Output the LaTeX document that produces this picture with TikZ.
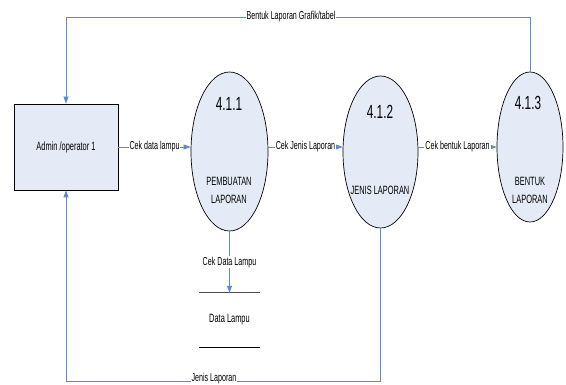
\documentclass[tikz,border=0pt]{standalone}
\usepackage{fontspec}
\setmainfont{Liberation Sans}[FakeStretch=0.62]
\usetikzlibrary{shapes.geometric,arrows.meta}
\definecolor{flowblue}{RGB}{92,138,208}
\definecolor{procfill}{RGB}{229,235,246}
\tikzset{
  flow/.style={draw=flowblue, line width=0.8pt, -{Triangle[length=7pt,width=5pt]}},
  lbl/.style={fill=white, inner sep=1pt, font=\fontsize{11.5}{12}\selectfont},
  proc/.style={ellipse, draw=black, line width=0.7pt, fill=procfill, inner sep=0pt},
  entity/.style={rectangle, draw=black, line width=0.8pt, fill=procfill, minimum width=104pt, minimum height=86pt, font=\fontsize{12}{13}\selectfont},
  num/.style={font=\fontsize{19}{20}\selectfont, inner sep=0pt},
  ptxt/.style={font=\fontsize{12}{18}\selectfont, align=center, inner sep=0pt},
}
\begin{document}
\begin{tikzpicture}[x=1pt,y=-1pt]
\useasboundingbox (0,0) rectangle (566,385);
% entity
\node[entity] (admin) at (66,147) {Admin /operator 1};
% processes
\node[proc, minimum width=77pt, minimum height=159pt] (p1) at (229.5,151.5) {};
\node[proc, minimum width=75pt, minimum height=152pt] (p2) at (380.5,152) {};
\node[proc, minimum width=66pt, minimum height=150pt] (p3) at (530,147) {};
\node[num] (n1) at (229,104) {4.1.1};
\node[ptxt] (t1) at (229,190) {PEMBUATAN\\LAPORAN};
\node[num] (n2) at (380,112) {4.1.2};
\node[ptxt] (t2) at (380,190) {JENIS LAPORAN};
\node[num] (n3) at (528,103) {4.1.3};
\node[ptxt] (t3) at (530,190.5) {BENTUK\\LAPORAN};
% data store
\node[minimum width=61pt, minimum height=54pt, inner sep=0pt, font=\fontsize{12}{13}\selectfont] (ds) at (229.5,320) {Data Lampu};
\draw[line width=1.3pt, draw=black!70] (ds.north west) -- (ds.north east);
\draw[line width=0.9pt, draw=black] (ds.south west) -- (ds.south east);
% coordinates for routed flows
\coordinate (topy) at (0,17);
\coordinate (boty) at (0,381);
% flows
\draw[flow] (admin.east) -- (p1.west |- admin.east) node[lbl, midway] (l1) {Cek data lampu};
\draw[flow] (p1.east |- admin.east) -- (p2.west |- admin.east) node[lbl, midway] (l2) {Cek Jenis Laporan};
\draw[flow] (p2.east |- admin.east) -- (p3.west |- admin.east) node[lbl, midway] (l3) {Cek bentuk Laporan};
\draw[flow] (p1.south) -- (ds.north) node[lbl, pos=0.5] (l4) {Cek Data Lampu};
\draw[flow] (p3.north) |- (topy -| admin.north) -- (admin.north);
\node[lbl] (l5) at (291,17) {Bentuk Laporan Grafik/tabel};
\draw[flow] (p2.south) |- (boty -| admin.south) -- (admin.south);
\node[lbl, inner sep=0.5pt] (l6) at (214,378.5) {Jenis Laporan};
\end{tikzpicture}
\end{document}
